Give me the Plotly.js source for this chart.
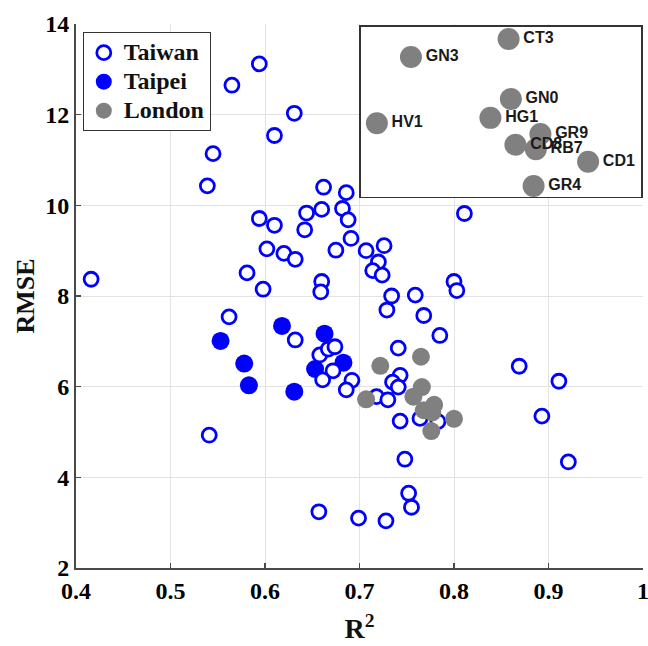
<!DOCTYPE html>
<html><head><meta charset="utf-8">
<script src="https://cdn.plot.ly/plotly-3.0.1.min.js"></script>
<style>html,body{margin:0;padding:0;background:#fff}#chart{width:648px;height:646px}</style>
</head><body><div id="chart"></div>
<script>
const taiwanR2 = [0.416,0.539,0.545,0.565,0.594,0.631,0.610,0.662,0.686,0.644,0.660,0.682,0.688,0.642,0.594,0.610,0.602,0.620,0.632,0.691,0.675,0.707,0.726,0.720,0.714,0.724,0.734,0.729,0.759,0.768,0.800,0.803,0.811,0.581,0.598,0.660,0.659,0.562,0.632,0.541,0.657,0.658,0.667,0.674,0.672,0.661,0.692,0.686,0.718,0.730,0.785,0.741,0.743,0.735,0.741,0.743,0.764,0.783,0.748,0.752,0.755,0.699,0.728,0.869,0.911,0.893,0.921];
const taiwanRMSE = [8.37,10.43,11.14,12.65,13.12,12.03,11.54,10.40,10.28,9.83,9.91,9.93,9.68,9.46,9.71,9.56,9.04,8.94,8.81,9.27,9.01,9.00,9.11,8.75,8.56,8.46,8.00,7.69,8.02,7.57,8.32,8.12,9.82,8.51,8.15,8.32,8.09,7.54,7.03,4.93,3.24,6.70,6.83,6.88,6.35,6.15,6.14,5.93,5.78,5.71,7.13,6.85,6.25,6.10,5.99,5.24,5.30,5.23,4.40,3.65,3.34,3.10,3.04,6.45,6.12,5.35,4.34];
const taipeiR2 = [0.553,0.578,0.583,0.618,0.631,0.663,0.653,0.683];
const taipeiRMSE = [7.01,6.51,6.03,7.34,5.89,7.17,6.39,6.53];
const londonNames = ['CT3','GN3','GN0','HG1','HV1','GR9','CD8','RB7','CD1','GR4'];
const londonR2 = [0.765,0.722,0.766,0.757,0.707,0.779,0.768,0.777,0.800,0.776];
const londonRMSE = [6.66,6.46,5.99,5.78,5.72,5.60,5.48,5.43,5.29,5.02];
const seriesNames = ['Taiwan','Taipei','London'];
const xTickVals = [0.4,0.5,0.6,0.7,0.8,0.9,1.0];
const xTickText = ['0.4','0.5','0.6','0.7','0.8','0.9','1'];
const yTickVals = [2,4,6,8,10,12,14];
const yTickText = ['2','4','6','8','10','12','14'];

const serif = 'Liberation Serif, Times New Roman, serif';
const sans = 'Liberation Sans, Arial, sans-serif';
const big = s => '<span style="font-size:24px">' + s + '</span>';

const traces = [
  {x: taipeiR2, y: taipeiRMSE, name: big(seriesNames[1]), type: 'scatter', mode: 'markers', legendrank: 2,
   marker: {symbol: 'circle', size: 18, color: '#0000ff', line: {width: 0}}},
  {x: taiwanR2, y: taiwanRMSE, name: big(seriesNames[0]), type: 'scatter', mode: 'markers', legendrank: 1,
   marker: {symbol: 'circle', size: 14, color: '#ffffff', line: {color: '#0000ff', width: 2.8}}},
  {x: londonR2, y: londonRMSE, name: big(seriesNames[2]), type: 'scatter', mode: 'markers', legendrank: 3,
   marker: {symbol: 'circle', size: 18, color: '#808080', line: {width: 0}}},
  {x: londonR2, y: londonRMSE, text: londonNames, type: 'scatter', mode: 'markers+text',
   xaxis: 'x2', yaxis: 'y2', showlegend: false, textposition: 'middle right',
   textfont: {family: sans, size: 16, color: '#1a1a1a', weight: 'bold'},
   marker: {symbol: 'circle', size: 22, color: '#808080', line: {width: 0}}}
];

const layout = {
  width: 648, height: 646,
  margin: {l: 76, r: 5, t: 24, b: 78},
  paper_bgcolor: '#ffffff', plot_bgcolor: '#ffffff',
  showlegend: true,
  legend: {x: 0.012, y: 0.985, xanchor: 'left', yanchor: 'top',
    bgcolor: '#ffffff', bordercolor: '#333333', borderwidth: 1,
    font: {family: serif, size: 20, color: '#111111', weight: 'bold'},
    tracegroupgap: 0},
  xaxis: {range: [0.4, 1.0], tickvals: xTickVals, ticktext: xTickText,
    showgrid: true, gridcolor: '#e3e3e3', gridwidth: 1, zeroline: false,
    showline: true, linecolor: '#4a4a4a', linewidth: 2, mirror: false,
    ticks: 'inside', ticklen: 5, tickwidth: 1.5, tickcolor: '#4a4a4a',
    ticklabeloverflow: 'allow',
    tickfont: {family: serif, size: 24, color: '#000000', weight: 'bold'},
    title: {text: 'R<sup>2</sup>', font: {family: serif, size: 28, color: '#111111', weight: 'bold'}, standoff: 16}},
  yaxis: {range: [2, 14], tickvals: yTickVals, ticktext: yTickText,
    showgrid: true, gridcolor: '#e3e3e3', gridwidth: 1, zeroline: false,
    showline: true, linecolor: '#4a4a4a', linewidth: 2, mirror: false,
    ticks: 'inside', ticklen: 5, tickwidth: 1.5, tickcolor: '#4a4a4a',
    tickfont: {family: serif, size: 24, color: '#000000', weight: 'bold'},
    title: {text: 'RMSE', font: {family: serif, size: 26, color: '#111111', weight: 'bold'}, standoff: 3}},
  xaxis2: {domain: [0.5026, 0.9965], anchor: 'y2', range: [0.700, 0.8233],
    showgrid: false, zeroline: false, showticklabels: false, ticks: '',
    showline: true, mirror: true, linecolor: '#333333', linewidth: 1.5},
  yaxis2: {domain: [0.682, 0.9945], anchor: 'x2', range: [4.897, 6.794],
    showgrid: false, zeroline: false, showticklabels: false, ticks: '',
    showline: true, mirror: true, linecolor: '#333333', linewidth: 1.5},
  hovermode: false
};

Plotly.newPlot('chart', traces, layout, {displayModeBar: false, staticPlot: true});
</script>
</body></html>
